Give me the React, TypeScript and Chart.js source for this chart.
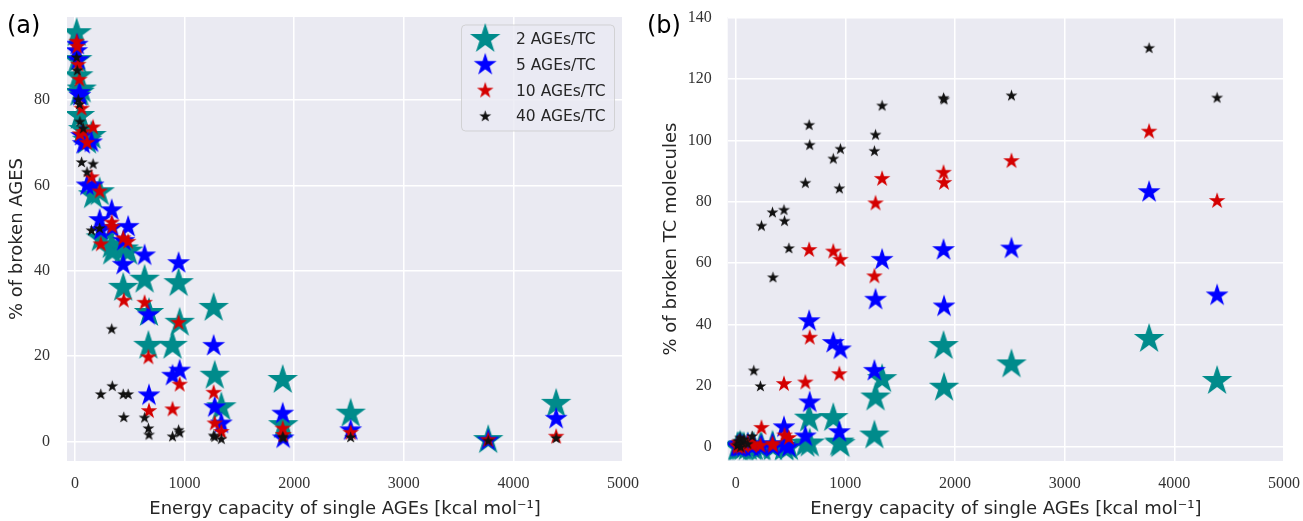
import { useEffect, useRef } from "react";
import { Chart, registerables } from "chart.js";

Chart.register(...registerables);

// ---------- data ----------
const energyCapacity = [15, 20, 30, 40, 45, 60, 75, 110, 150, 165, 225, 235, 335, 340, 440, 445, 485, 635, 670, 675, 890, 945, 955, 1265, 1275, 1335, 1895, 1900, 2515, 3770, 4390];

// panel (a): % of broken AGES
const brokenAges2 = [95.7, 89.4, 85.6, 81.7, 76.3, 82.5, 73.0, 70.5, 71.6, 57.7, 58.4, 47.6, 46.0, 44.5, 36.0, 45.0, 44.5, 37.9, 22.4, 30.1, 22.4, 37.1, 27.8, 31.3, 15.4, 8.0, 14.4, 3.8, 6.5, 0.3, 8.8];
const brokenAges5 = [91.5, 93.0, 89.4, 81.7, 81.0, 71.6, 69.7, 60.0, 70.1, 60.0, 51.9, 49.5, 54.2, 50.0, 41.4, 47.0, 50.3, 43.6, 29.6, 10.8, 15.4, 41.8, 16.6, 22.4, 8.0, 4.2, 6.5, 0.7, 2.6, 0.2, 5.3];
const brokenAges10 = [93.7, 92.5, 88.3, 84.8, 72.0, 78.0, 72.5, 70.0, 61.9, 73.6, 58.6, 46.2, 51.3, 50.3, 47.6, 33.0, 46.8, 32.5, 19.7, 7.1, 7.5, 27.8, 13.3, 11.4, 4.2, 2.2, 3.0, 1.5, 2.0, 0.3, 1.1];
const brokenAges40 = [90.0, 86.9, 80.1, 79.0, 74.9, 65.4, 73.3, 63.1, 49.4, 65.0, 49.9, 11.0, 26.3, 12.9, 11.0, 5.6, 11.0, 5.5, 3.0, 1.5, 1.1, 2.6, 2.0, 1.3, 1.0, 0.5, 1.0, 0.8, 0.9, 0.1, 0.7];

// panel (b): % of broken TC molecules
const brokenTc2 = [0, 0, 0, 0.5, 0, 0, 0, 0, 0, 0, 0, 0, 0.5, 0, 0, 0, 0, 1.1, 9.3, 1.2, 9.5, 1.5, 1.0, 3.8, 16.2, 22.2, 33.0, 19.4, 27.0, 35.3, 21.6];
const brokenTc5 = [0, 0.5, 0, 1.0, 0, 0.5, 0, 1.0, 0, 0.5, 0, 0.5, 1.0, 0, 6.5, 0.5, 0, 3.5, 41.1, 14.6, 34.0, 4.9, 31.9, 24.9, 48.1, 61.1, 64.3, 45.9, 64.8, 83.2, 49.5];
const brokenTc10 = [0.5, 0, 1.5, 0.8, 0, 1.0, 0.5, 1.5, 0.5, 1.0, 0.5, 6.3, 1.1, 0.5, 20.6, 3.8, 3.0, 21.1, 64.3, 35.7, 63.8, 23.8, 61.1, 55.7, 79.5, 87.5, 89.5, 86.2, 93.3, 102.9, 80.3];
const brokenTc40 = [0.5, 2.0, 1.0, 3.0, 0, 1.5, 2.5, 1.0, 3.5, 24.9, 19.8, 72.1, 76.5, 55.3, 77.3, 73.7, 64.8, 86.1, 105.0, 98.5, 94.0, 84.3, 97.2, 96.5, 101.8, 111.3, 113.8, 113.3, 114.6, 130.1, 113.9];

const seriesNames = ["2 AGEs/TC", "5 AGEs/TC", "10 AGEs/TC", "40 AGEs/TC"];
const xTickValues = [0, 1000, 2000, 3000, 4000, 5000];
const yTickValuesA = [0, 20, 40, 60, 80];
const yTickValuesB = [0, 20, 40, 60, 80, 100, 120, 140];
const xTitle = "Energy capacity of single AGEs [kcal mol\u207B\u00B9]";

// ---------- styles ----------
const COLORS = ["#008b8b", "#0000ff", "#d40000", "#111111"];
const RADII = [16, 12, 8.7, 6.3];
const PLOT_BG = "#eaeaf2";
const TEXT = "#262626";

function makeStar(r: number, color: string): HTMLCanvasElement {
  const size = Math.ceil(2 * r + 4);
  const c = document.createElement("canvas");
  c.width = size;
  c.height = size;
  const ctx = c.getContext("2d")!;
  const cx = size / 2;
  const cy = size / 2;
  ctx.beginPath();
  for (let i = 0; i < 10; i++) {
    const ang = -Math.PI / 2 + (i * Math.PI) / 5;
    const rad = i % 2 === 0 ? r : r * 0.381966;
    const px = cx + rad * Math.cos(ang);
    const py = cy + rad * Math.sin(ang);
    if (i === 0) ctx.moveTo(px, py);
    else ctx.lineTo(px, py);
  }
  ctx.closePath();
  ctx.fillStyle = color;
  ctx.fill();
  return c;
}

const plotBgPlugin = {
  id: "plotBg",
  beforeDraw(chart: any) {
    const { ctx, chartArea: a } = chart;
    ctx.save();
    ctx.fillStyle = PLOT_BG;
    ctx.fillRect(a.left, a.top, a.right - a.left, a.bottom - a.top);
    ctx.restore();
  },
};

function makeLegendPlugin(stars: HTMLCanvasElement[]) {
  return {
    id: "starLegend",
    afterDraw(chart: any) {
      const { ctx, chartArea } = chart;
      const bw = 153;
      const bh = 106;
      const bx = chartArea.right - 8.5 - bw;
      const by = chartArea.top + 8;
      ctx.save();
      ctx.beginPath();
      const r = 4;
      ctx.moveTo(bx + r, by);
      ctx.lineTo(bx + bw - r, by);
      ctx.quadraticCurveTo(bx + bw, by, bx + bw, by + r);
      ctx.lineTo(bx + bw, by + bh - r);
      ctx.quadraticCurveTo(bx + bw, by + bh, bx + bw - r, by + bh);
      ctx.lineTo(bx + r, by + bh);
      ctx.quadraticCurveTo(bx, by + bh, bx, by + bh - r);
      ctx.lineTo(bx, by + r);
      ctx.quadraticCurveTo(bx, by, bx + r, by);
      ctx.closePath();
      ctx.fillStyle = "rgba(234,234,242,0.8)";
      ctx.fill();
      ctx.strokeStyle = "rgba(204,204,204,0.8)";
      ctx.lineWidth = 1;
      ctx.stroke();
      ctx.font = '15.5px "DejaVu Sans"';
      ctx.fillStyle = TEXT;
      ctx.textBaseline = "middle";
      ctx.textAlign = "left";
      seriesNames.forEach((name, i) => {
        const cy = by + 14 + i * 25.8;
        const s = stars[i];
        ctx.drawImage(s, bx + 23.7 - s.width / 2, cy - s.height / 2);
        ctx.fillText(name, bx + 54.5, cy + 1);
      });
      ctx.restore();
    },
  };
}

type PanelOpts = {
  ys: number[][];
  yMin: number;
  yMax: number;
  yTicks: number[];
  yTitle: string;
  yAxisWidth: number;
  yTitlePad: number;
  yTickPad: number;
  padRight: number;
  legend: boolean;
};

function zeroPadding(s: any) {
  s.paddingTop = 0;
  s.paddingBottom = 0;
  s.paddingLeft = 0;
  s.paddingRight = 0;
}

function buildChart(canvas: HTMLCanvasElement, o: PanelOpts) {
  const stars = COLORS.map((c, i) => makeStar(RADII[i], c));
  const datasets = o.ys.map((arr, i) => ({
    label: seriesNames[i],
    data: arr.map((y, j) => ({ x: energyCapacity[j], y })),
    pointStyle: stars[i] as any,
    pointRadius: RADII[i],
    pointHoverRadius: RADII[i],
    backgroundColor: COLORS[i],
    borderColor: COLORS[i],
    order: 4 - i,
    clip: 0,
    showLine: false,
  }));
  const plugins: any[] = [plotBgPlugin];
  if (o.legend) plugins.push(makeLegendPlugin(stars));
  return new Chart(canvas, {
    type: "scatter",
    data: { datasets },
    plugins,
    options: {
      animation: false,
      responsive: false,
      events: [],
      layout: { padding: { top: 14, right: o.padRight, left: 0, bottom: 0 } },
      plugins: { legend: { display: false }, tooltip: { enabled: false } },
      scales: {
        x: {
          type: "linear",
          min: -73,
          max: 5000,
          afterBuildTicks: (s: any) => {
            s.ticks = xTickValues.map((v) => ({ value: v }));
          },
          afterFit: (s: any) => {
            s.height = 60;
            zeroPadding(s);
          },
          grid: { color: "#ffffff", lineWidth: 1.5, drawTicks: false },
          border: { display: false },
          ticks: {
            autoSkip: false,
            maxRotation: 0,
            padding: 13,
            color: "#333333",
            font: { family: '"Liberation Serif"', size: 16 },
            callback: (v: any) => String(v),
          },
          title: {
            display: true,
            text: xTitle,
            color: TEXT,
            font: { family: '"DejaVu Sans"', size: 18 },
            padding: { top: 0, bottom: 1 },
          },
        },
        y: {
          type: "linear",
          min: o.yMin,
          max: o.yMax,
          afterBuildTicks: (s: any) => {
            s.ticks = o.yTicks.map((v) => ({ value: v }));
          },
          afterFit: (s: any) => {
            s.width = o.yAxisWidth;
            zeroPadding(s);
          },
          grid: { color: "#ffffff", lineWidth: 1.5, drawTicks: false },
          border: { display: false },
          ticks: {
            autoSkip: false,
            padding: o.yTickPad,
            color: "#333333",
            font: { family: '"Liberation Serif"', size: 16 },
            callback: (v: any) => String(v),
          },
          title: {
            display: true,
            text: o.yTitle,
            color: TEXT,
            font: { family: '"DejaVu Sans"', size: 18 },
            padding: { top: o.yTitlePad, bottom: 0 },
          },
        },
      },
    } as any,
  });
}

export default function App() {
  const refA = useRef<HTMLCanvasElement>(null);
  const refB = useRef<HTMLCanvasElement>(null);

  useEffect(() => {
    const a = buildChart(refA.current!, {
      ys: [brokenAges2, brokenAges5, brokenAges10, brokenAges40],
      yMin: -4.6,
      yMax: 99.5,
      yTicks: yTickValuesA,
      yTitle: "% of broken AGES",
      yAxisWidth: 67,
      yTitlePad: 7,
      yTickPad: 17,
      padRight: 17,
      legend: true,
    });
    const b = buildChart(refB.current!, {
      ys: [brokenTc2, brokenTc5, brokenTc10, brokenTc40],
      yMin: -4.5,
      yMax: 140.3,
      yTicks: yTickValuesB,
      yTitle: "% of broken TC molecules",
      yAxisWidth: 77.7,
      yTitlePad: 10.5,
      yTickPad: 16,
      padRight: 19,
      legend: false,
    });
    return () => {
      a.destroy();
      b.destroy();
    };
  }, []);

  const panelLabel = {
    position: "absolute" as const,
    top: 10.6,
    fontFamily: '"DejaVu Sans"',
    fontSize: 24,
    lineHeight: "28px",
    color: "#000",
    margin: 0,
  };

  return (
    <div
      style={{
        position: "fixed",
        left: 0,
        top: 0,
        width: 1303,
        height: 521,
        background: "#ffffff",
        overflow: "hidden",
      }}
    >
      <canvas ref={refA} width={640} height={521} style={{ position: "absolute", left: 0, top: 0, width: 640, height: 521 }} />
      <canvas ref={refB} width={653} height={521} style={{ position: "absolute", left: 650, top: 0, width: 653, height: 521 }} />
      <div style={{ ...panelLabel, left: 7 }}>(a)</div>
      <div style={{ ...panelLabel, left: 647 }}>(b)</div>
    </div>
  );
}
